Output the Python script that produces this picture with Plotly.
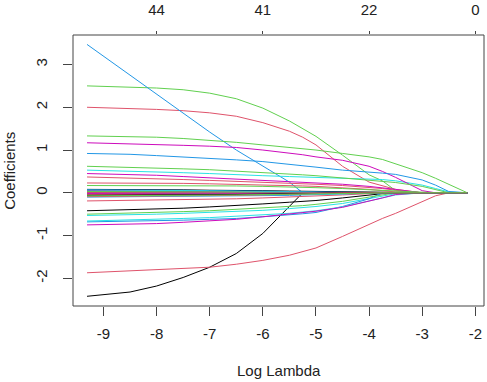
import plotly.graph_objects as go

# ---------------- data ----------------
log_lambda = [-9.31, -8.5, -8.0, -7.5, -7.0, -6.5, -6.0, -5.5, -5.25, -5.0,
              -4.5, -4.0, -3.75, -3.5, -3.0, -2.75, -2.5, -2.15]

black_paths = [
    [-2.42, -2.32, -2.18, -1.98, -1.74, -1.42, -0.95, -0.30, 0, 0, 0, 0, 0, 0, 0, 0, 0, 0],
    [-0.42, -0.40, -0.38, -0.36, -0.33, -0.30, -0.26, -0.22, -0.20, -0.18, -0.12, -0.05, -0.02, 0, 0, 0, 0, 0],
    [0.08, 0.08, 0.07, 0.07, 0.06, 0.06, 0.05, 0.04, 0.035, 0.03, 0.02, 0.01, 0.005, 0, 0, 0, 0, 0],
    [0.05, 0.05, 0.05, 0.04, 0.04, 0.03, 0.03, 0.02, 0.015, 0.01, 0, 0, 0, 0, 0, 0, 0, 0],
    [0.02, 0.02, 0.02, 0.015, 0.01, 0.005, 0, 0, 0, 0, 0, 0, 0, 0, 0, 0, 0, 0],
    [-0.01, -0.01, -0.01, -0.01, -0.01, -0.01, -0.005, 0, 0, 0, 0, 0, 0, 0, 0, 0, 0, 0],
    [-0.03, -0.03, -0.03, -0.025, -0.02, -0.02, -0.015, -0.01, -0.005, 0, 0, 0, 0, 0, 0, 0, 0, 0],
    [-0.06, -0.06, -0.055, -0.05, -0.045, -0.04, -0.035, -0.025, -0.02, -0.015, 0, 0, 0, 0, 0, 0, 0, 0],
]

red_paths = [
    [2.00, 1.98, 1.95, 1.92, 1.87, 1.79, 1.64, 1.44, 1.30, 1.12, 0.62, 0.25, 0.16, 0.08, 0, 0, 0, 0],
    [0.37, 0.35, 0.33, 0.31, 0.29, 0.27, 0.25, 0.23, 0.22, 0.20, 0.17, 0.13, 0.10, 0.06, 0, 0, 0, 0],
    [0.23, 0.23, 0.22, 0.22, 0.21, 0.20, 0.19, 0.17, 0.16, 0.15, 0.12, 0.08, 0.05, 0.02, 0, 0, 0, 0],
    [-0.19, -0.18, -0.17, -0.16, -0.15, -0.14, -0.12, -0.10, -0.09, -0.08, -0.05, -0.02, 0, 0, 0, 0, 0, 0],
    [-1.87, -1.83, -1.80, -1.77, -1.74, -1.67, -1.58, -1.46, -1.38, -1.29, -1.02, -0.73, -0.60, -0.48, -0.21, -0.07, 0, 0],
    [0.01, 0.01, 0.01, 0.005, 0, 0, 0, 0, 0, 0, 0, 0, 0, 0, 0, 0, 0, 0],
    [-0.04, -0.04, -0.035, -0.03, -0.03, -0.025, -0.02, -0.01, 0, 0, 0, 0, 0, 0, 0, 0, 0, 0],
    [-0.09, -0.085, -0.08, -0.075, -0.07, -0.06, -0.05, -0.04, -0.03, -0.02, 0, 0, 0, 0, 0, 0, 0, 0],
]

green_paths = [
    [2.50, 2.48, 2.45, 2.41, 2.33, 2.20, 1.98, 1.68, 1.50, 1.32, 0.88, 0.42, 0.28, 0.05, 0, 0, 0, 0],
    [1.33, 1.32, 1.30, 1.27, 1.23, 1.18, 1.12, 1.06, 1.03, 1.00, 0.92, 0.84, 0.78, 0.68, 0.47, 0.34, 0.20, 0],
    [0.62, 0.60, 0.58, 0.56, 0.54, 0.51, 0.48, 0.44, 0.42, 0.40, 0.35, 0.30, 0.27, 0.24, 0.15, 0.08, 0, 0],
    [0.17, 0.17, 0.17, 0.16, 0.16, 0.16, 0.15, 0.14, 0.13, 0.12, 0.10, 0.07, 0.05, 0.03, 0, 0, 0, 0],
    [-0.50, -0.48, -0.46, -0.44, -0.42, -0.39, -0.36, -0.32, -0.30, -0.27, -0.20, -0.10, -0.05, 0, 0, 0, 0, 0],
    [0.03, 0.03, 0.03, 0.02, 0.02, 0.02, 0.01, 0.01, 0.005, 0, 0, 0, 0, 0, 0, 0, 0, 0],
    [-0.02, -0.02, -0.02, -0.015, -0.01, 0, 0, 0, 0, 0, 0, 0, 0, 0, 0, 0, 0, 0],
    [-0.07, -0.07, -0.065, -0.06, -0.055, -0.05, -0.045, -0.04, -0.035, -0.03, -0.02, -0.01, 0, 0, 0, 0, 0, 0],
]

blue_paths = [
    [3.47, 2.75, 2.30, 1.86, 1.42, 1.00, 0.62, 0.25, 0, 0, 0, 0, 0, 0, 0, 0, 0, 0],
    [0.92, 0.90, 0.87, 0.84, 0.81, 0.77, 0.73, 0.67, 0.64, 0.60, 0.53, 0.49, 0.46, 0.43, 0.30, 0.18, 0.03, 0],
    [-0.68, -0.67, -0.66, -0.64, -0.62, -0.60, -0.56, -0.52, -0.49, -0.46, -0.32, -0.14, 0, 0, 0, 0, 0, 0],
    [0.07, 0.07, 0.06, 0.06, 0.05, 0.05, 0.04, 0.03, 0.025, 0.02, 0.01, 0, 0, 0, 0, 0, 0, 0],
    [0.015, 0.01, 0.005, 0, 0, 0, 0, 0, 0, 0, 0, 0, 0, 0, 0, 0, 0, 0],
    [-0.05, -0.05, -0.045, -0.04, -0.04, -0.035, -0.03, -0.02, -0.015, -0.01, 0, 0, 0, 0, 0, 0, 0, 0],
    [-0.10, -0.095, -0.09, -0.085, -0.08, -0.075, -0.07, -0.06, -0.05, -0.04, -0.02, -0.01, -0.005, 0, 0, 0, 0, 0],
]

cyan_paths = [
    [0.53, 0.51, 0.49, 0.47, 0.45, 0.42, 0.40, 0.38, 0.37, 0.36, 0.34, 0.32, 0.31, 0.28, 0.18, 0.10, 0.02, 0],
    [-0.53, -0.52, -0.50, -0.48, -0.46, -0.44, -0.41, -0.37, -0.35, -0.32, -0.25, -0.14, -0.08, -0.02, 0, 0, 0, 0],
    [-0.66, -0.64, -0.62, -0.60, -0.58, -0.55, -0.52, -0.48, -0.45, -0.42, -0.33, -0.20, -0.12, -0.05, 0, 0, 0, 0],
    [0.06, 0.06, 0.05, 0.05, 0.04, 0.03, 0.02, 0.01, 0, 0, 0, 0, 0, 0, 0, 0, 0, 0],
    [-0.005, -0.005, 0, 0, 0, 0, 0, 0, 0, 0, 0, 0, 0, 0, 0, 0, 0, 0],
    [-0.035, -0.035, -0.03, -0.03, -0.025, -0.02, -0.015, -0.01, -0.005, 0, 0, 0, 0, 0, 0, 0, 0, 0],
    [-0.08, -0.08, -0.075, -0.07, -0.065, -0.06, -0.05, -0.04, -0.035, -0.03, -0.015, 0, 0, 0, 0, 0, 0, 0],
]

magenta_paths = [
    [1.17, 1.15, 1.13, 1.11, 1.09, 1.06, 1.00, 0.93, 0.89, 0.84, 0.76, 0.62, 0.50, 0.36, 0.05, 0, 0, 0],
    [0.45, 0.43, 0.41, 0.38, 0.35, 0.32, 0.29, 0.26, 0.25, 0.23, 0.20, 0.15, 0.12, 0.08, 0, 0, 0, 0],
    [-0.75, -0.74, -0.72, -0.69, -0.66, -0.62, -0.56, -0.50, -0.47, -0.43, -0.34, -0.20, -0.12, -0.04, 0, 0, 0, 0],
    [0.04, 0.04, 0.03, 0.03, 0.02, 0.01, 0, 0, 0, 0, 0, 0, 0, 0, 0, 0, 0, 0],
    [0.005, 0.005, 0, 0, 0, 0, 0, 0, 0, 0, 0, 0, 0, 0, 0, 0, 0, 0],
    [-0.045, -0.045, -0.04, -0.04, -0.035, -0.03, -0.025, -0.02, -0.015, -0.01, 0, 0, 0, 0, 0, 0, 0, 0],
    [-0.015, -0.015, -0.01, -0.01, 0, 0, 0, 0, 0, 0, 0, 0, 0, 0, 0, 0, 0, 0],
]

x_ticks = [-9, -8, -7, -6, -5, -4, -3, -2]
y_ticks = [-2, -1, 0, 1, 2, 3]
top_tick_pos = [-8, -6, -4, -2]
top_tick_labels = ["44", "41", "22", "0"]

# ---------------- styling ----------------
groups = [
    (black_paths, "#000000"),
    (red_paths, "#DF536B"),
    (green_paths, "#61D04F"),
    (blue_paths, "#2297E6"),
    (cyan_paths, "#28E2E5"),
    (magenta_paths, "#CD0BBC"),
]

fig = go.Figure()
# draw interleaved like matplot (variable order cycles colours)
maxlen = max(len(g[0]) for g in groups)
for i in range(maxlen):
    for paths, col in groups:
        if i < len(paths):
            fig.add_trace(go.Scatter(x=log_lambda, y=paths[i], mode="lines",
                                     line=dict(color=col, width=1),
                                     showlegend=False, hoverinfo="skip"))

# invisible trace to activate the top axis
fig.add_trace(go.Scatter(x=top_tick_pos, y=[0] * len(top_tick_pos), xaxis="x2",
                         mode="lines", line=dict(width=0), opacity=0,
                         showlegend=False, hoverinfo="skip"))

font = dict(family="Liberation Sans, Arial, sans-serif", size=15, color="#222222")
xr = [-9.574, -1.837]
yr = [-2.647, 3.69]
axcol = "#444444"

fig.update_layout(
    width=487, height=382,
    margin=dict(l=73, r=3, t=35, b=76),
    paper_bgcolor="white", plot_bgcolor="white",
    font=font,
    xaxis=dict(range=xr, tickvals=x_ticks, ticktext=[str(v) for v in x_ticks],
               showgrid=False, zeroline=False, showline=False, automargin=False,
               ticks="outside", ticklen=9, tickcolor=axcol,
               tickfont=font, ticklabelstandoff=5),
    xaxis2=dict(range=xr, overlaying="x", side="top", anchor="y", automargin=False,
                tickvals=top_tick_pos, ticktext=top_tick_labels,
                showgrid=False, zeroline=False, showline=False,
                ticks="outside", ticklen=3, tickcolor=axcol,
                tickfont=font, ticklabelstandoff=10),
    yaxis=dict(range=yr, tickvals=y_ticks, ticktext=[str(v) for v in y_ticks],
               showgrid=False, zeroline=False, showline=False, automargin=False,
               ticks="outside", ticklen=9, tickcolor=axcol,
               tickangle=-90, tickfont=font, ticklabelstandoff=10),
    shapes=[dict(type="rect", xref="paper", yref="paper", x0=0, x1=1, y0=0, y1=1,
                 line=dict(color=axcol, width=1), fillcolor="rgba(0,0,0,0)", layer="above")],
    annotations=[
        dict(text="Log Lambda", xref="paper", yref="paper", x=0.5, y=-0.2396,
             xanchor="center", yanchor="middle", showarrow=False, font=font),
        dict(text="Coefficients", xref="paper", yref="paper", x=-0.1549, y=0.5,
             xanchor="center", yanchor="middle", textangle=-90, showarrow=False, font=font),
    ],
)

fig.write_html("out.html", config={"displayModeBar": False},
               post_script="document.body.style.margin='0';")
